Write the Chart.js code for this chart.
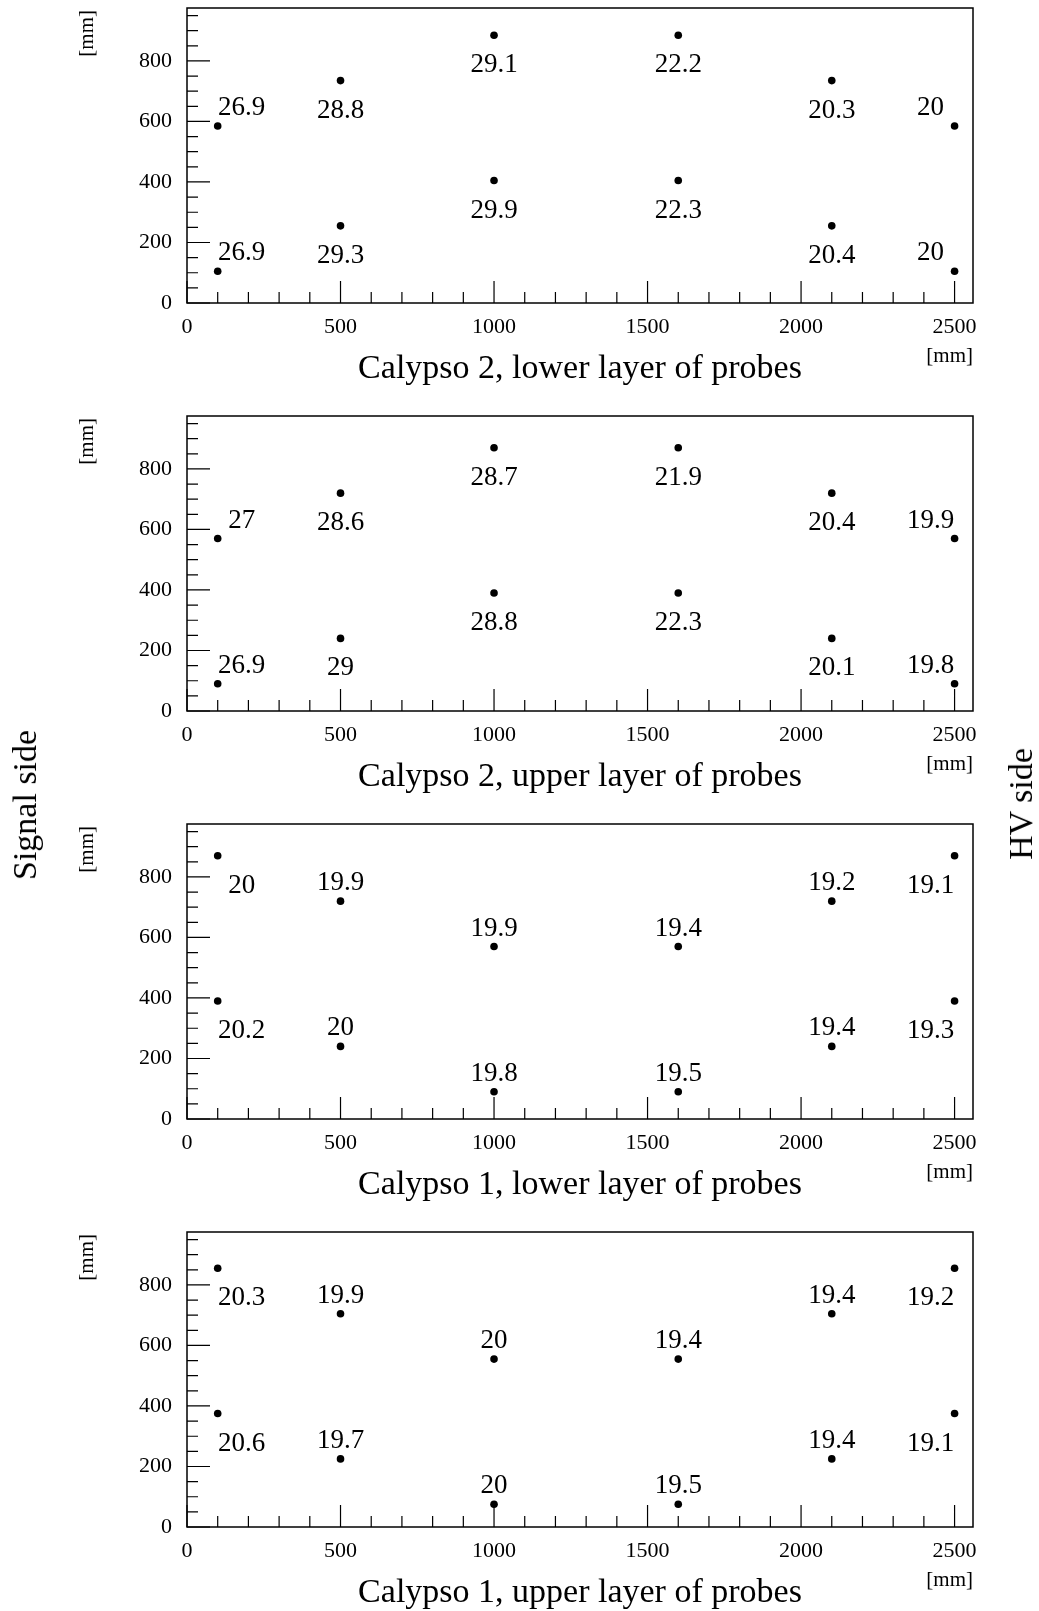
<!DOCTYPE html>
<html>
<head>
<meta charset="utf-8">
<script src="https://cdn.jsdelivr.net/npm/chart.js@4.4.1/dist/chart.umd.min.js"></script>
<style>
  html, body { margin: 0; padding: 0; background: #fff; }
  body { width: 1039px; height: 1611px; position: relative; overflow: hidden; font-family: "Liberation Serif", serif; }
  canvas { position: absolute; left: 0; }
  .side { position: absolute; font-size: 34px; line-height: 34px; white-space: nowrap; color: #000;
          transform: translate(-50%, -50%) rotate(-90deg); }
</style>
</head>
<body>
<canvas id="c2low" width="1039" height="408" style="top:0px"></canvas>
<canvas id="c2up" width="1039" height="408" style="top:408px"></canvas>
<canvas id="c1low" width="1039" height="408" style="top:816px"></canvas>
<canvas id="c1up" width="1039" height="408" style="top:1224px"></canvas>
<div class="side" style="left:25px; top:805px">Signal side</div>
<div class="side" style="left:1021px; top:804px">HV side</div>

<script>
// LES DONNEES : ------------------------------------------------------------------
const xProbes = [100, 500, 1000, 1600, 2100, 2500];

// Calypso 2, couche basse
const c2low_yHigh = [585, 735, 885, 885, 735, 585];
const c2low_yLow  = [105, 255, 405, 405, 255, 105];
const c2low_tHigh = [26.9, 28.8, 29.1, 22.2, 20.3, 20];
const c2low_tLow  = [26.9, 29.3, 29.9, 22.3, 20.4, 20];

// Calypso 2, couche haute
const c2up_yHigh = [570, 720, 870, 870, 720, 570];
const c2up_yLow  = [90, 240, 390, 390, 240, 90];
const c2up_tHigh = [27, 28.6, 28.7, 21.9, 20.4, 19.9];
const c2up_tLow  = [26.9, 29, 28.8, 22.3, 20.1, 19.8];

// Calypso 1, couche basse
const c1low_yHigh = [870, 720, 570, 570, 720, 870];
const c1low_yLow  = [390, 240, 90, 90, 240, 390];
const c1low_tHigh = [20, 19.9, 19.9, 19.4, 19.2, 19.1];
const c1low_tLow  = [20.2, 20, 19.8, 19.5, 19.4, 19.3];

// Calypso 1, couche haute
const c1up_yHigh = [855, 705, 555, 555, 705, 855];
const c1up_yLow  = [375, 225, 75, 75, 225, 375];
const c1up_tHigh = [20.3, 19.9, 20, 19.4, 19.4, 19.2];
const c1up_tLow  = [20.6, 19.7, 20, 19.5, 19.4, 19.1];

// axes
const xMax = 2560, xStep = 100, xMajor = 500;
const yMax = 975, yStep = 50, yMajor = 200;

// position des étiquettes autour des points
const placeC2 = ['NE', 'S', 'S', 'S', 'S', 'NW'];
const placeC1 = ['SE', 'N', 'N', 'N', 'N', 'SW'];
const offsets = { N: [0, -18], S: [0, 30], NE: [24, -18], NW: [-24, -18], SE: [24, 30], SW: [-24, 30] };

const serif = '"Liberation Serif", "Times New Roman", serif';

// LES FONCTIONS : ----------------------------------------------------------------
function stepTicks(max, step) {
  const t = [];
  for (let v = 0; v <= max; v += step) t.push({ value: v });
  return t;
}

// pas de marge automatique autour des axes : la zone du graphe est fixée par layout.padding
function noPad(s) {
  s.paddingTop = 0;
  s.paddingBottom = 0;
  s.paddingLeft = 0;
  s.paddingRight = 0;
}

// cadre, graduations internes et textes (style ROOT)
const cadre = {
  id: 'cadre',
  afterDatasetsDraw(chart) {
    const ctx = chart.ctx;
    ctx.save();
    ctx.fillStyle = '#000';
    ctx.font = '27px ' + serif;
    ctx.textAlign = 'center';
    ctx.textBaseline = 'middle';
    chart.data.datasets.forEach((ds, i) => {
      chart.getDatasetMeta(i).data.forEach((pt, j) => {
        const o = offsets[ds.place[j]];
        ctx.fillText(String(ds.texts[j]), pt.x + o[0], pt.y + o[1]);
      });
    });
    ctx.restore();
  },
  afterDraw(chart, args, opts) {
    const { ctx, chartArea: a, scales: { x, y } } = chart;
    ctx.save();
    ctx.strokeStyle = '#000';
    ctx.lineWidth = 1.5;
    ctx.strokeRect(a.left, a.top, a.right - a.left, a.bottom - a.top);

    ctx.lineWidth = 1.2;
    ctx.beginPath();
    x.ticks.forEach(t => {
      const px = x.getPixelForValue(t.value);
      const len = t.value % xMajor === 0 ? 22 : 11;
      ctx.moveTo(px, a.bottom);
      ctx.lineTo(px, a.bottom - len);
    });
    y.ticks.forEach(t => {
      const py = y.getPixelForValue(t.value);
      const len = t.value % yMajor === 0 ? 23 : 11;
      ctx.moveTo(a.left, py);
      ctx.lineTo(a.left + len, py);
    });
    ctx.stroke();

    ctx.fillStyle = '#000';
    // titre sous l'axe
    ctx.font = '34px ' + serif;
    ctx.textAlign = 'center';
    ctx.textBaseline = 'alphabetic';
    ctx.fillText(opts.title, (a.left + a.right) / 2, a.bottom + 75);

    // unités
    ctx.font = '21px ' + serif;
    ctx.textAlign = 'right';
    ctx.textBaseline = 'middle';
    ctx.fillText('[mm]', a.right, a.bottom + 53);

    ctx.translate(93, a.top + 2);
    ctx.rotate(-Math.PI / 2);
    ctx.textBaseline = 'alphabetic';
    ctx.fillText('[mm]', 0, 0);
    ctx.restore();
  }
};

function makePanel(id, yHigh, yLow, tHigh, tLow, place, title) {
  const pointStyle = {
    showLine: false,
    pointRadius: 3.8,
    pointHoverRadius: 3.8,
    pointBackgroundColor: '#000',
    pointBorderColor: '#000',
    pointBorderWidth: 0
  };
  new Chart(document.getElementById(id), {
    type: 'scatter',
    data: {
      datasets: [
        Object.assign({ data: xProbes.map((v, i) => ({ x: v, y: yHigh[i] })), texts: tHigh, place: place }, pointStyle),
        Object.assign({ data: xProbes.map((v, i) => ({ x: v, y: yLow[i] })), texts: tLow, place: place }, pointStyle)
      ]
    },
    options: {
      responsive: false,
      animation: false,
      events: [],
      layout: { padding: { top: 8, right: 66, left: 0, bottom: 0 } },
      scales: {
        x: {
          type: 'linear', min: 0, max: xMax,
          afterBuildTicks: s => { s.ticks = stepTicks(2500, xStep); },
          afterFit: s => { s.height = 105; noPad(s); },
          grid: { display: false, drawTicks: false },
          border: { display: false },
          ticks: {
            autoSkip: false, maxRotation: 0, minRotation: 0, padding: 11,
            color: '#000', font: { family: serif, size: 22 },
            callback: v => (v % xMajor === 0 ? String(v) : '')
          }
        },
        y: {
          type: 'linear', min: 0, max: yMax,
          afterBuildTicks: s => { s.ticks = stepTicks(950, yStep); },
          afterFit: s => { s.width = 187; noPad(s); },
          grid: { display: false, drawTicks: false },
          border: { display: false },
          ticks: {
            autoSkip: false, padding: 15,
            color: '#000', font: { family: serif, size: 22 },
            callback: v => (v % yMajor === 0 ? String(v) : '')
          }
        }
      },
      plugins: {
        legend: { display: false },
        tooltip: { enabled: false },
        cadre: { title: title }
      }
    },
    plugins: [cadre]
  });
}

// Appel des fonctions :
makePanel('c2low', c2low_yHigh, c2low_yLow, c2low_tHigh, c2low_tLow, placeC2, 'Calypso 2, lower layer of probes');
makePanel('c2up', c2up_yHigh, c2up_yLow, c2up_tHigh, c2up_tLow, placeC2, 'Calypso 2, upper layer of probes');
makePanel('c1low', c1low_yHigh, c1low_yLow, c1low_tHigh, c1low_tLow, placeC1, 'Calypso 1, lower layer of probes');
makePanel('c1up', c1up_yHigh, c1up_yLow, c1up_tHigh, c1up_tLow, placeC1, 'Calypso 1, upper layer of probes');
</script>
</body>
</html>
